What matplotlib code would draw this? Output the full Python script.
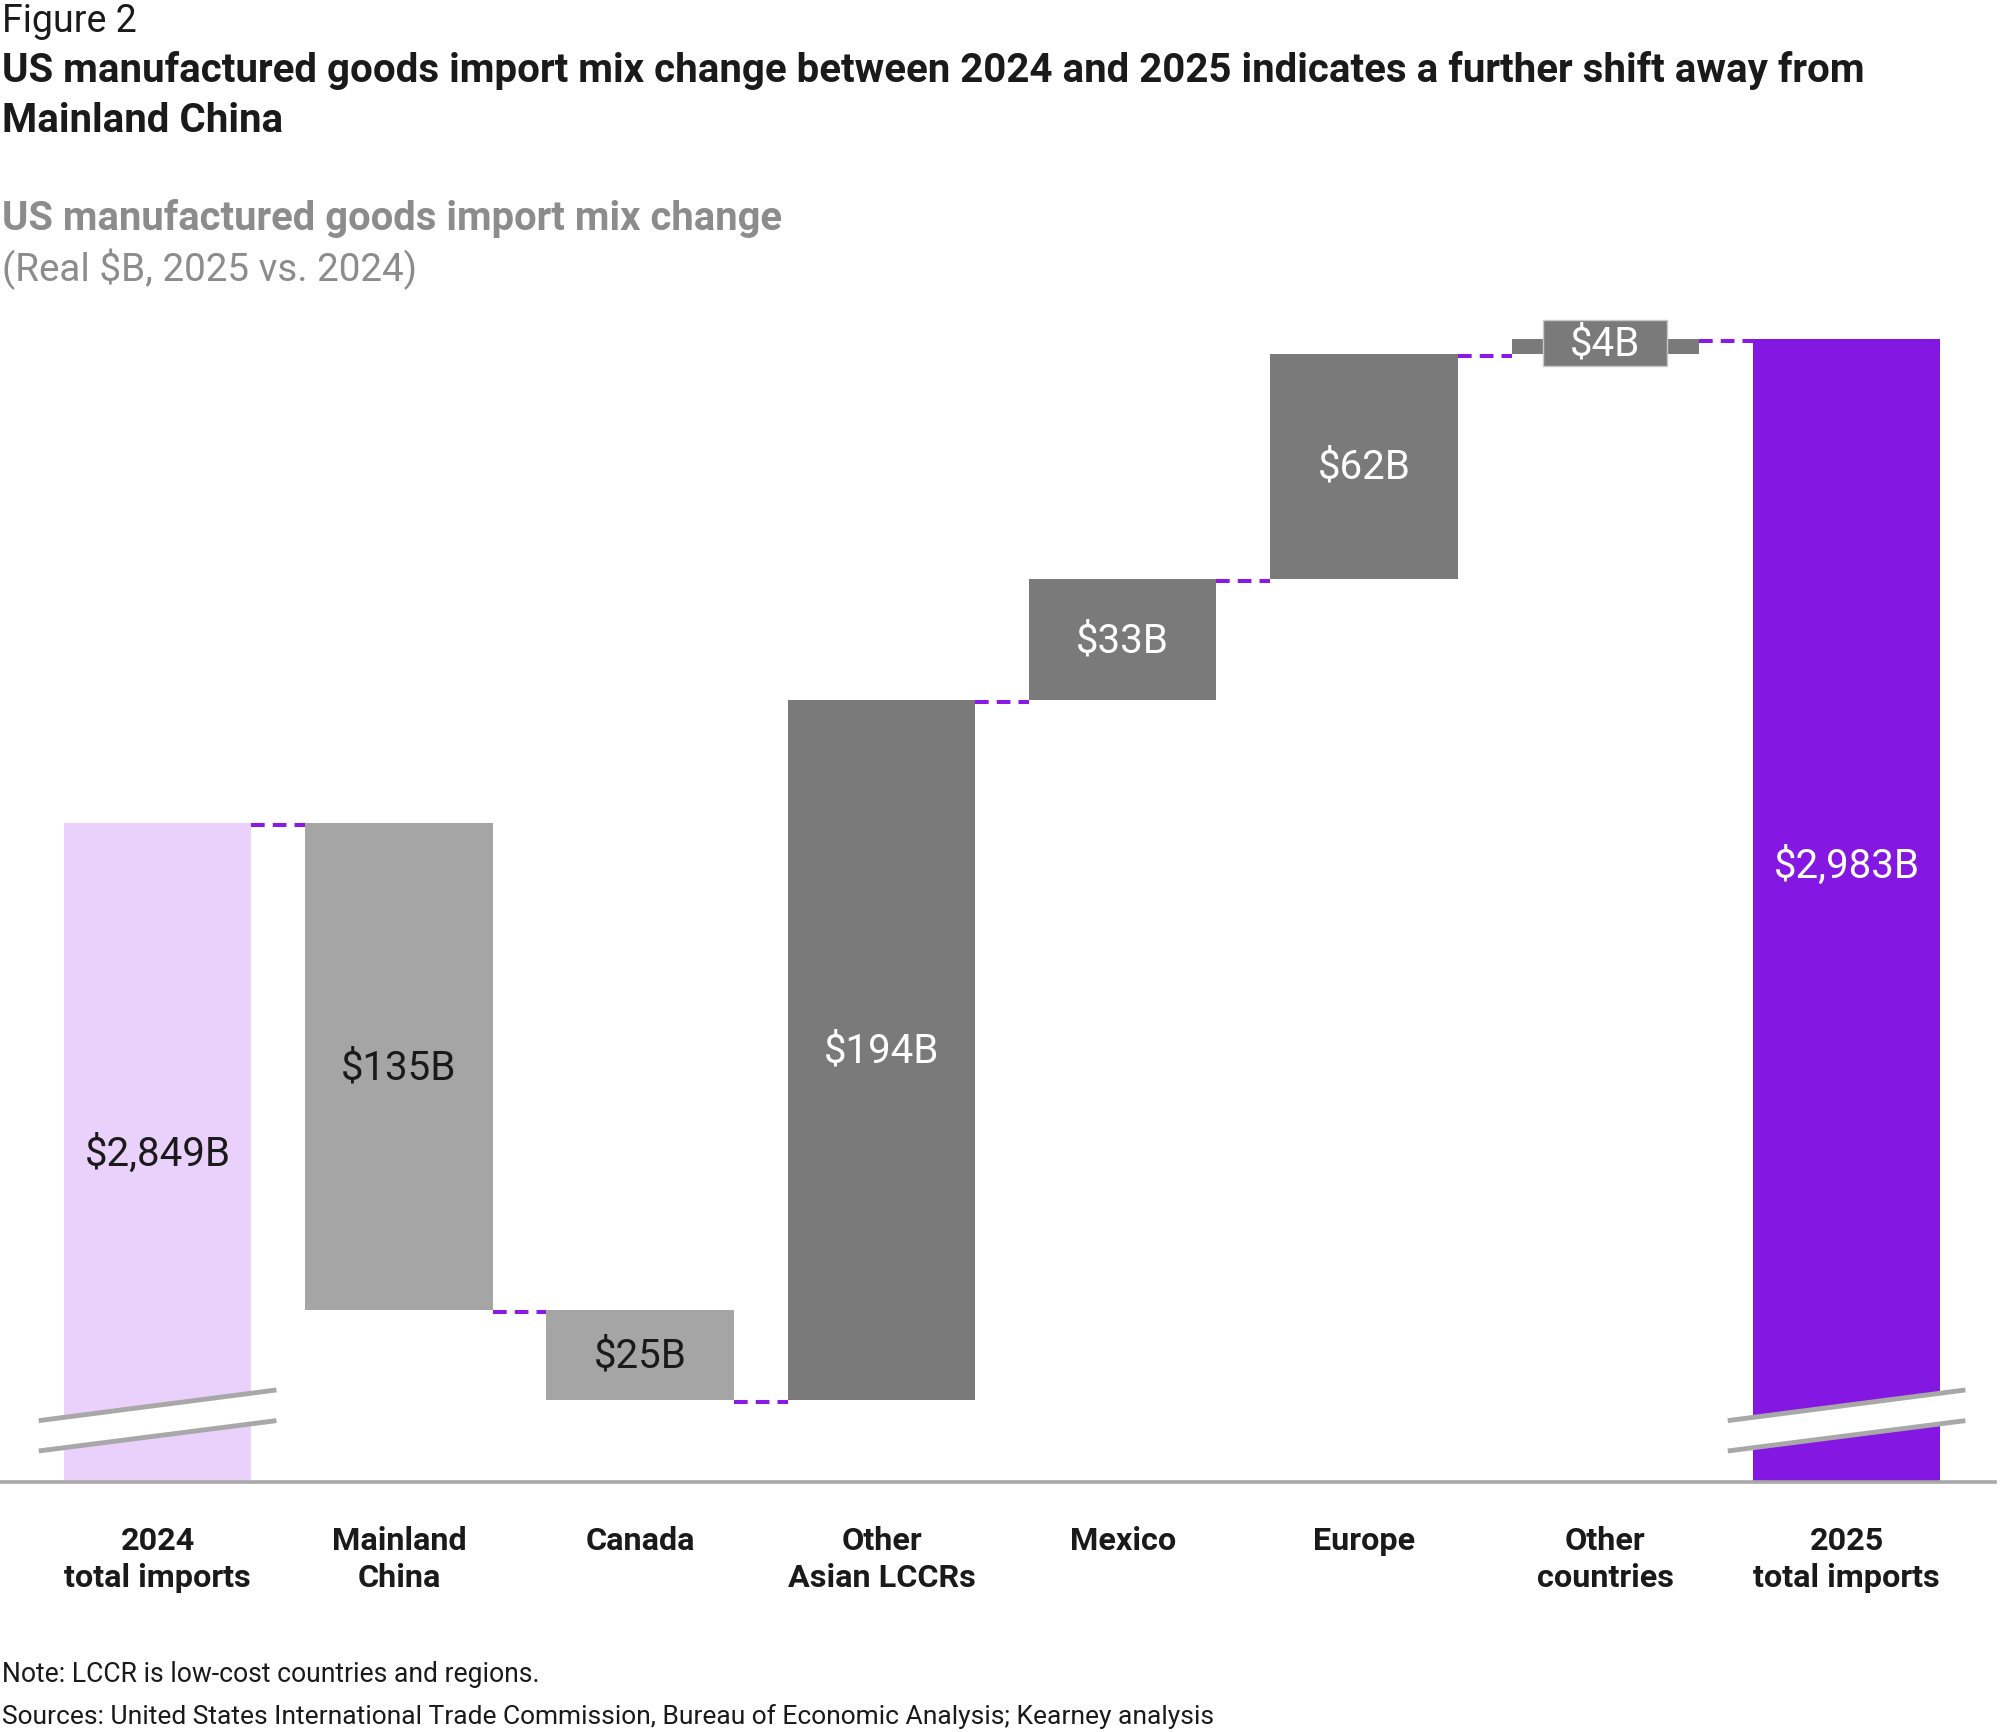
import matplotlib.pyplot as plt
from matplotlib.patches import Rectangle, Polygon
from matplotlib.transforms import offset_copy

plt.rcParams['font.family'] = ['Roboto', 'DejaVu Sans']

# data
categories = ['2024\ntotal imports', 'Mainland\nChina', 'Canada', 'Other\nAsian LCCRs',
              'Mexico', 'Europe', 'Other\ncountries', '2025\ntotal imports']
start_total = 2849
changes = [-135, -25, 194, 33.6, 62.4, 4]   # unrounded estimates
end_total = 2983
labels = ['$2,849B', '$135B', '$25B', '$194B', '$33B', '$62B', '$4B', '$2,983B']

axis_floor = 2666.4   # value at the broken baseline
axis_top = 3000

c_start = '#e9d1fb'
c_end = '#8418e2'
c_neg = '#a5a5a5'
c_pos = '#7a7a7a'
c_dash = '#8a1ae6'
c_break = '#a8a8a8'
dark = '#1a1a1a'
grey_txt = '#8c8c8c'

W, H = 2000, 1733
fig = plt.figure(figsize=(W / 100, H / 100), dpi=100)

def fy(px):
    return 1 - px / H

ax = fig.add_axes([0, fy(1483), 0.9975, fy(279) - fy(1483)])
ax.set_xlim(-0.653, 7.615)
ax.set_ylim(axis_floor, axis_top)
for s in ax.spines.values():
    s.set_visible(False)
ax.set_yticks([])

bw = 0.777

# bars
bottoms, heights, colors, txtc = [], [], [], []
bottoms.append(axis_floor); heights.append(start_total - axis_floor)
colors.append(c_start); txtc.append(dark)
level = start_total
levels = [level]
for ch in changes:
    if ch < 0:
        bottoms.append(level + ch); heights.append(-ch)
        colors.append(c_neg); txtc.append(dark)
    else:
        bottoms.append(level); heights.append(ch)
        colors.append(c_pos); txtc.append('white')
    level += ch
    levels.append(level)
bottoms.append(axis_floor); heights.append(end_total - axis_floor)
colors.append(c_end); txtc.append('white')

x = list(range(len(categories)))
ax.bar(x, heights, bottom=bottoms, width=bw, color=colors, zorder=2)

# connectors (hang just below the level)
dash_tr = offset_copy(ax.transData, fig=fig, x=0, y=-2, units='dots')
for i, lv in enumerate(levels):
    ax.plot([i + bw / 2, i + 1 - bw / 2], [lv, lv], color=c_dash, lw=2.9,
            dashes=(3.4, 2.0), zorder=3, dash_capstyle='butt', transform=dash_tr)

# value labels
for i in x:
    yc = bottoms[i] + heights[i] / 2
    if i == len(x) - 1:
        yc = bottoms[i] + heights[i] * 0.54
    if i == 6:
        yc += 1.0
        ax.add_patch(Rectangle((i - 0.257, yc - 6.5), 0.514, 13, facecolor=c_pos,
                               edgecolor='#c8c8c8', lw=1, zorder=4))
    ax.text(i, yc, labels[i], ha='center', va='center', fontsize=29, color=txtc[i], zorder=5)

# axis breaks
ext = bw / 2 + 0.104
for i in (0, len(x) - 1):
    xl, xr = i - ext, i + ext
    up = [2683.4, 2691.9]
    lo = [2675.0, 2683.4]
    ax.add_patch(Polygon([(xl, up[0]), (xr, up[1]), (xr, lo[1]), (xl, lo[0])],
                         closed=True, facecolor='white', edgecolor='none', zorder=6))
    ax.plot([xl, xr], up, color=c_break, lw=3.5, zorder=7, solid_capstyle='butt')
    ax.plot([xl, xr], lo, color=c_break, lw=3.5, zorder=7, solid_capstyle='butt')

ax.axhline(axis_floor, color='#a8a8a8', lw=2.6, zorder=8, clip_on=False)

ax.set_xticks(x)
ax.set_xticklabels(categories, fontsize=23.3, fontweight='bold', color=dark, linespacing=1.3)
ax.tick_params(axis='x', length=0, pad=31)

# texts
fig.text(0.001, fy(22), 'Figure 2', fontsize=27, color=dark, va='center')
fig.text(0.001, fy(71), 'US manufactured goods import mix change between 2024 and 2025 indicates a further shift away from',
         fontsize=29, fontweight='bold', color=dark, va='center')
fig.text(0.001, fy(121), 'Mainland China', fontsize=29, fontweight='bold', color=dark, va='center')
fig.text(0.001, fy(219), 'US manufactured goods import mix change', fontsize=28.8, fontweight='semibold',
         color=grey_txt, va='center')
fig.text(0.001, fy(269), '(Real $B, 2025 vs. 2024)', fontsize=27.8, color=grey_txt, va='center')
fig.text(0.001, fy(1675), 'Note: LCCR is low-cost countries and regions.', fontsize=19.1, color=dark, va='center')
fig.text(0.001, fy(1717), 'Sources: United States International Trade Commission, Bureau of Economic Analysis; Kearney analysis',
         fontsize=19, color=dark, va='center')

fig.savefig('out.png', dpi=100)
